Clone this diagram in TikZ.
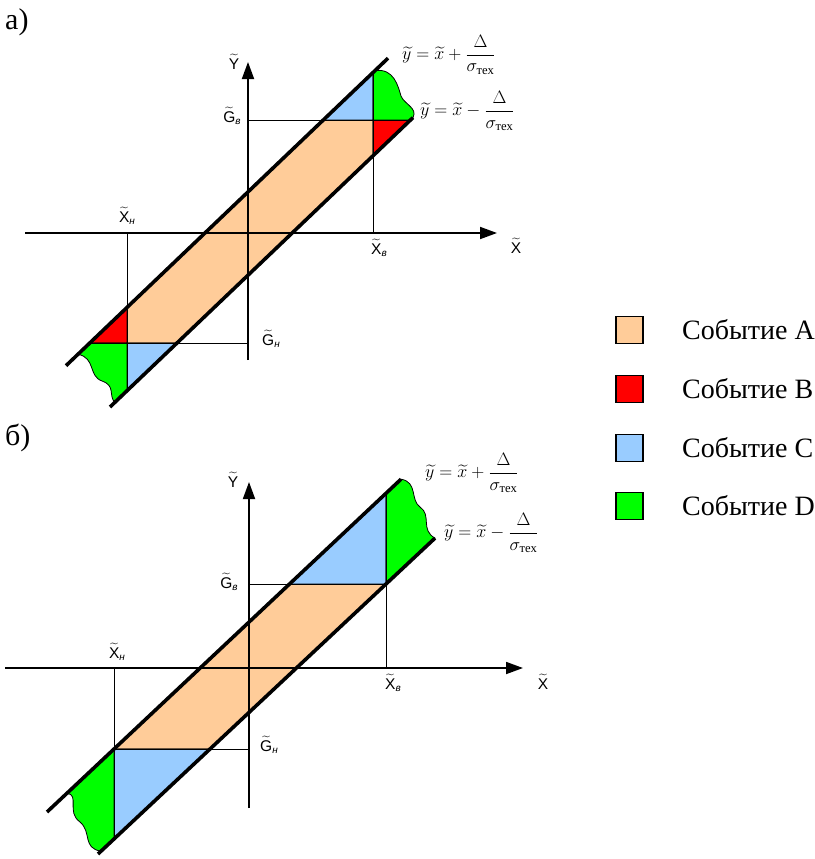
\documentclass[tikz,border=0pt]{standalone}
\usepackage{fix-cm}
\usepackage{amsmath}
\usepackage{fontspec}
\setmainfont{Liberation Serif}
\newfontfamily\lab{Liberation Sans}
\usetikzlibrary{arrows.meta}
\definecolor{cA}{HTML}{FFCC99}
\definecolor{cB}{HTML}{FF0000}
\definecolor{cC}{HTML}{99CCFF}
\definecolor{cD}{HTML}{00FF00}
\tikzset{
 bandline/.style={line width=3.6pt},
 axisline/.style={line width=1.8pt, -{Triangle[length=17pt,width=12pt]}},
 thinline/.style={line width=0.8pt},
 region/.style={draw=black, line width=0.8pt},
 lbl/.style={font=\lab\fontsize{15.5}{16}\selectfont, inner sep=0pt},
 eqn/.style={font=\fontsize{18}{20}\selectfont, anchor=west, inner sep=0pt},
 legbox/.style={draw=black, line width=1.6pt, minimum size=27pt, inner sep=0pt},
 legtxt/.style={font=\fontsize{28}{30}\selectfont, anchor=west, inner sep=0pt},
 parttxt/.style={font=\fontsize{30}{32}\selectfont, anchor=west, inner sep=0pt},
}
\newcommand\tl[1]{$\widetilde{\hbox{#1}}$}
\newcommand\subi[1]{\raisebox{-2.5pt}{\fontsize{10}{10}\selectfont\itshape #1}}
\begin{document}
\begin{tikzpicture}[x=1pt,y=-1pt]
\useasboundingbox (0,0) rectangle (814,859);
% ================= a) =================
\fill[cA, region] (127,307.5) -- (127,343) -- (177,343) -- (373,155.8) -- (373,120) -- (323.3,120) -- cycle;
\fill[cB, region] (373,120) -- (410.5,120) -- (373,155.8) -- cycle;
\fill[cB, region] (127,307.5) -- (127,343) -- (89.8,343) -- cycle;
\fill[cC, region] (323.3,120) -- (373,120) -- (373,72.6) -- cycle;
\fill[cC, region] (127,343) -- (177,343) -- (127,390.75) -- cycle;
\fill[cD, region] (373,72.6) -- (373,120) -- (410.5,120) -- (413,117.6)
   .. controls (418,108) and (404,104) .. (401,96)
   .. controls (398,86) and (394,68) .. (375,70.6) -- cycle;
\fill[cD, region] (89.8,343) -- (127,343) -- (127,390.75) -- (115,402.8)
   .. controls (108,395) and (116,386) .. (102,381)
   .. controls (88,376) and (96,358) .. (78,354.3) -- cycle;
\draw[thinline] (127,233) -- (127,390.75);
\draw[thinline] (89.8,343) -- (248,343);
\draw[thinline] (373,72.6) -- (373,233);
\draw[thinline] (248,120) -- (410.5,120);
\draw[axisline] (25,233) -- (497,233);
\draw[axisline] (248,360) -- (248,62);
\draw[bandline] (66,365.7) -- (388,58.2);
\draw[bandline] (110,407) -- (413,117.6);
\node[lbl] (aY) at (234,62) {\tl{Y}};
\node[lbl] (aGv) at (232,116) {\tl{G}\subi{в}};
\node[lbl] (aXn) at (127,216) {\tl{X}\subi{н}};
\node[lbl] (aGn) at (271,339) {\tl{G}\subi{н}};
\node[lbl] (aXv) at (379,248) {\tl{X}\subi{в}};
\node[lbl] (aX) at (516,246) {\tl{X}};
\node[eqn] (aE1) at (402,55) {$\widetilde y=\widetilde x+\dfrac{\Delta}{\sigma_{\text{тех}}}$};
\node[eqn] (aE2) at (420,111) {$\widetilde y=\widetilde x-\dfrac{\Delta}{\sigma_{\text{тех}}}$};
\node[parttxt] (pa) at (5,22) {а)};
% ================= b) =================
\fill[cA, region] (114,749) -- (210,749) -- (386,584) -- (289.5,584) -- cycle;
\fill[cC, region] (289.5,584) -- (386,584) -- (386,493.3) -- cycle;
\fill[cC, region] (114,749) -- (210,749) -- (114,839) -- cycle;
\fill[cD, region] (386,493.3) -- (386,584) -- (435,538.1)
   .. controls (420,530) and (432,515) .. (420,507)
   .. controls (410,500) and (418,482) .. (401,479.2) -- cycle;
\fill[cD, region] (114,749) -- (114,839) -- (101,851.2)
   .. controls (82,848) and (92,832) .. (80,822)
   .. controls (66,812) and (80,795) .. (67,793.2) -- cycle;
\draw[thinline] (114,668) -- (114,839);
\draw[thinline] (114,749) -- (249,749);
\draw[thinline] (386,493.3) -- (386,668);
\draw[thinline] (249,584) -- (386,584);
\draw[axisline] (5,668) -- (523,668);
\draw[axisline] (249,808) -- (249,482);
\draw[bandline] (47,812) -- (401,479.2);
\draw[bandline] (98,854) -- (435,538.1);
\node[lbl] (bY) at (233,480) {\tl{Y}};
\node[lbl] (bGv) at (229,582) {\tl{G}\subi{в}};
\node[lbl] (bXn) at (117,652) {\tl{X}\subi{н}};
\node[lbl] (bGn) at (269,745) {\tl{G}\subi{н}};
\node[lbl] (bXv) at (393,683) {\tl{X}\subi{в}};
\node[lbl] (bX) at (543,682) {\tl{X}};
\node[eqn] (bE1) at (425,473) {$\widetilde y=\widetilde x+\dfrac{\Delta}{\sigma_{\text{тех}}}$};
\node[eqn] (bE2) at (444,533) {$\widetilde y=\widetilde x-\dfrac{\Delta}{\sigma_{\text{тех}}}$};
\node[parttxt] (pb) at (5,438) {б)};
% ================= legend =================
\node[legbox, fill=cA] (LA) at (629.5,330) {};
\node[legbox, fill=cB] (LB) at (629.5,389) {};
\node[legbox, fill=cC] (LC) at (629.5,448) {};
\node[legbox, fill=cD] (LD) at (629.5,506) {};
\node[legtxt] (TA) at (682,330) {Событие A};
\node[legtxt] (TB) at (682,389) {Событие B};
\node[legtxt] (TC) at (682,448) {Событие C};
\node[legtxt] (TD) at (682,506) {Событие D};
\end{tikzpicture}
\end{document}
